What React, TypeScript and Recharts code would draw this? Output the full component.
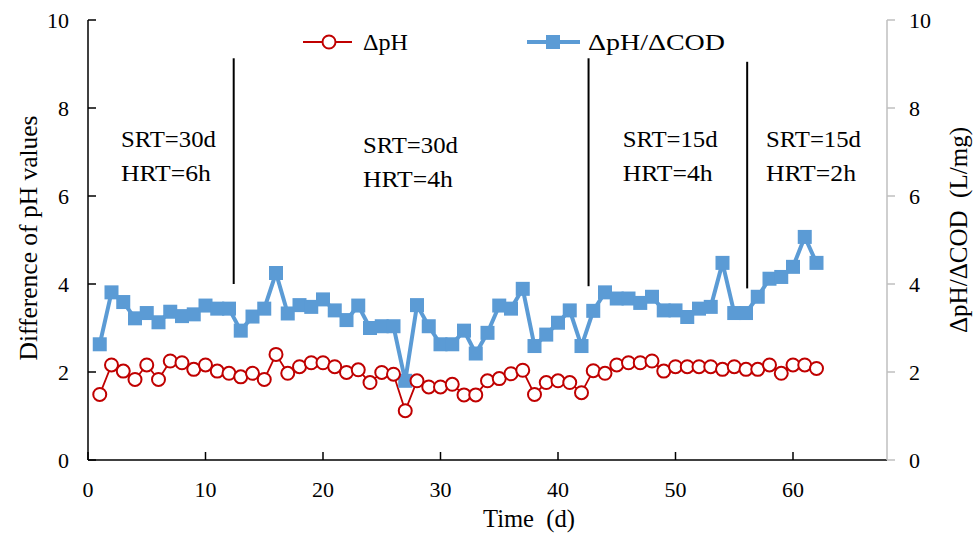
import React from "react"
import {
  LineChart, Line, XAxis, YAxis, ReferenceLine, ReferenceDot,
} from "recharts"

const DAYS = Array.from({ length: 62 }, (_, i) => i + 1)

const DELTA_PH = [
  1.49, 2.16, 2.02, 1.83, 2.16, 1.83, 2.25, 2.21, 2.06, 2.16,
  2.02, 1.97, 1.89, 1.97, 1.83, 2.40, 1.97, 2.12, 2.21, 2.21,
  2.12, 1.99, 2.05, 1.76, 1.99, 1.95, 1.12, 1.80, 1.66, 1.66,
  1.72, 1.48, 1.48, 1.80, 1.85, 1.96, 2.04, 1.49, 1.76, 1.80,
  1.76, 1.53, 2.03, 1.97, 2.16, 2.21, 2.21, 2.25, 2.02, 2.12,
  2.12, 2.12, 2.12, 2.06, 2.12, 2.06, 2.06, 2.16, 1.97, 2.16,
  2.16, 2.08,
]

const DELTA_PH_COD = [
  2.63, 3.81, 3.59, 3.22, 3.34, 3.13, 3.37, 3.27, 3.31, 3.51,
  3.44, 3.44, 2.94, 3.26, 3.44, 4.25, 3.33, 3.52, 3.48, 3.65,
  3.40, 3.18, 3.51, 3.00, 3.04, 3.04, 1.80, 3.52, 3.04, 2.63,
  2.63, 2.94, 2.42, 2.89, 3.51, 3.44, 3.89, 2.59, 2.85, 3.12,
  3.40, 2.59, 3.39, 3.81, 3.67, 3.67, 3.57, 3.71, 3.40, 3.40,
  3.25, 3.44, 3.48, 4.48, 3.34, 3.34, 3.71, 4.12, 4.16, 4.39,
  5.07, 4.48,
]

const X_TICKS = [0, 10, 20, 30, 40, 50, 60]
const Y_TICKS = [0, 2, 4, 6, 8, 10]

// phase boundaries (day) and the vertical extent of the marker lines
const BOUNDARIES = [12.4, 42.6, 56.1]
const BOUNDARY_TOP = [9.13, 9.13, 9.05]
const BOUNDARY_BOTTOM = [4.0, 3.95, 3.9]

// phase annotations: start day, y of first line, text
const PHASES = [
  { x: 2.8, y: 7.3, srt: "SRT=30d", hrt: "HRT=6h" },
  { x: 23.4, y: 7.16, srt: "SRT=30d", hrt: "HRT=4h" },
  { x: 45.5, y: 7.3, srt: "SRT=15d", hrt: "HRT=4h" },
  { x: 57.7, y: 7.3, srt: "SRT=15d", hrt: "HRT=2h" },
]

const data = DAYS.map((d, i) => ({ day: d, ph: DELTA_PH[i], ratio: DELTA_PH_COD[i] }))

const SERIF = { fontFamily: "Liberation Serif" }
const RED = "#C00000"
const BLUE = "#5B9BD5"

function LeftTick({ x, y, payload }: any) {
  return (
    <g>
      <line x1={x} x2={x + 8} y1={y} y2={y} stroke="#000" strokeWidth={1.5} />
      <text x={x - 19} y={y} dy="0.35em" textAnchor="end" fontSize={22} style={SERIF} fill="#000">
        {payload.value}
      </text>
    </g>
  )
}

function RightTick({ x, y, payload }: any) {
  return (
    <g>
      <line x1={x} x2={x + 8} y1={y} y2={y} stroke="#bfbfbf" strokeWidth={1.5} />
      <text x={x + 22} y={y} dy="0.35em" textAnchor="start" fontSize={22} style={SERIF} fill="#000">
        {payload.value}
      </text>
    </g>
  )
}

function BottomTick({ x, y, payload }: any) {
  return (
    <g>
      <line x1={x} x2={x} y1={y} y2={y - 8} stroke="#000" strokeWidth={1.5} />
      <text x={x} y={y + 37} textAnchor="middle" fontSize={22} style={SERIF} fill="#000">
        {payload.value}
      </text>
    </g>
  )
}

function Square({ cx, cy }: any) {
  return <rect x={cx - 7} y={cy - 7} width={14} height={14} fill={BLUE} />
}

function PhaseLabel({ viewBox, srt, hrt }: any) {
  const x = viewBox.x
  const y = viewBox.y
  return (
    <g>
      <text x={x} y={y} dy="0.35em" fontSize={24} style={SERIF} fill="#000" textLength={95} lengthAdjust="spacingAndGlyphs">
        {srt}
      </text>
      <text x={x} y={y + 34} dy="0.35em" fontSize={24} style={SERIF} fill="#000" textLength={90} lengthAdjust="spacingAndGlyphs">
        {hrt}
      </text>
    </g>
  )
}

export default function App() {
  return (
    <div style={{ position: "absolute", left: 0, top: 0, width: 977, height: 536, background: "#fff" }}>
      <LineChart width={977} height={536} data={data} margin={{ top: 20, right: 0, bottom: 0, left: 0 }}>
        <XAxis
          dataKey="day"
          type="number"
          domain={[0, 68]}
          ticks={X_TICKS}
          tickSize={0}
          tickMargin={0}
          tick={<BottomTick />}
          height={76}
          axisLine={{ stroke: "#000", strokeWidth: 1.5 }}
          tickLine={false}
        />
        <YAxis
          yAxisId="left"
          domain={[0, 10]}
          ticks={Y_TICKS}
          width={88}
          tickSize={0}
          tickMargin={0}
          tick={<LeftTick />}
          axisLine={{ stroke: "#000", strokeWidth: 1.5 }}
          tickLine={false}
        />
        <YAxis
          yAxisId="right"
          orientation="right"
          domain={[0, 10]}
          ticks={Y_TICKS}
          width={90}
          tickSize={0}
          tickMargin={0}
          tick={<RightTick />}
          axisLine={{ stroke: "#bfbfbf", strokeWidth: 1.5 }}
          tickLine={false}
        />
        {BOUNDARIES.map((b, i) => (
          <ReferenceLine
            key={b}
            yAxisId="left"
            segment={[{ x: b, y: BOUNDARY_TOP[i] }, { x: b, y: BOUNDARY_BOTTOM[i] }]}
            stroke="#000"
            strokeWidth={2}
          />
        ))}
        {PHASES.map(p => (
          <ReferenceDot
            key={p.x}
            yAxisId="left"
            x={p.x}
            y={p.y}
            r={0}
            fill="none"
            stroke="none"
            label={<PhaseLabel srt={p.srt} hrt={p.hrt} />}
          />
        ))}
        <Line
          yAxisId="right"
          dataKey="ratio"
          stroke={BLUE}
          strokeWidth={4}
          dot={<Square />}
          isAnimationActive={false}
        />
        <Line
          yAxisId="left"
          dataKey="ph"
          stroke={RED}
          strokeWidth={1.8}
          dot={{ r: 6.5, fill: "#fff", stroke: RED, strokeWidth: 2 }}
          isAnimationActive={false}
        />
      </LineChart>
      <svg width={977} height={536} style={{ position: "absolute", left: 0, top: 0, pointerEvents: "none" }}>
        {/* legend */}
        <line x1={303} x2={352} y1={42} y2={42} stroke={RED} strokeWidth={1.8} />
        <circle cx={329} cy={42} r={6.5} fill="#fff" stroke={RED} strokeWidth={2} />
        <text x={363} y={42} dy="0.35em" fontSize={24} style={SERIF} textLength={45} lengthAdjust="spacingAndGlyphs">ΔpH</text>
        <line x1={527} x2={580} y1={42} y2={42} stroke={BLUE} strokeWidth={4} />
        <rect x={546} y={35} width={14} height={14} fill={BLUE} />
        <text x={588} y={42} dy="0.35em" fontSize={24} style={SERIF} textLength={137} lengthAdjust="spacingAndGlyphs">ΔpH/ΔCOD</text>
        {/* axis titles */}
        <text x={28} y={238} transform="rotate(-90 28 238)" textAnchor="middle" dy="0.35em" fontSize={25} style={SERIF} textLength={245} lengthAdjust="spacingAndGlyphs">
          Difference of pH values
        </text>
        <text x={958} y={230} transform="rotate(-90 958 230)" textAnchor="middle" dy="0.35em" fontSize={25} style={{ ...SERIF, whiteSpace: "pre" }} textLength={206} lengthAdjust="spacingAndGlyphs">
          {"ΔpH/ΔCOD  (L/mg)"}
        </text>
        <text x={529} y={518} textAnchor="middle" dy="0.35em" fontSize={25} style={{ ...SERIF, whiteSpace: "pre" }} textLength={92} lengthAdjust="spacingAndGlyphs">
          {"Time  (d)"}
        </text>
      </svg>
    </div>
  )
}
